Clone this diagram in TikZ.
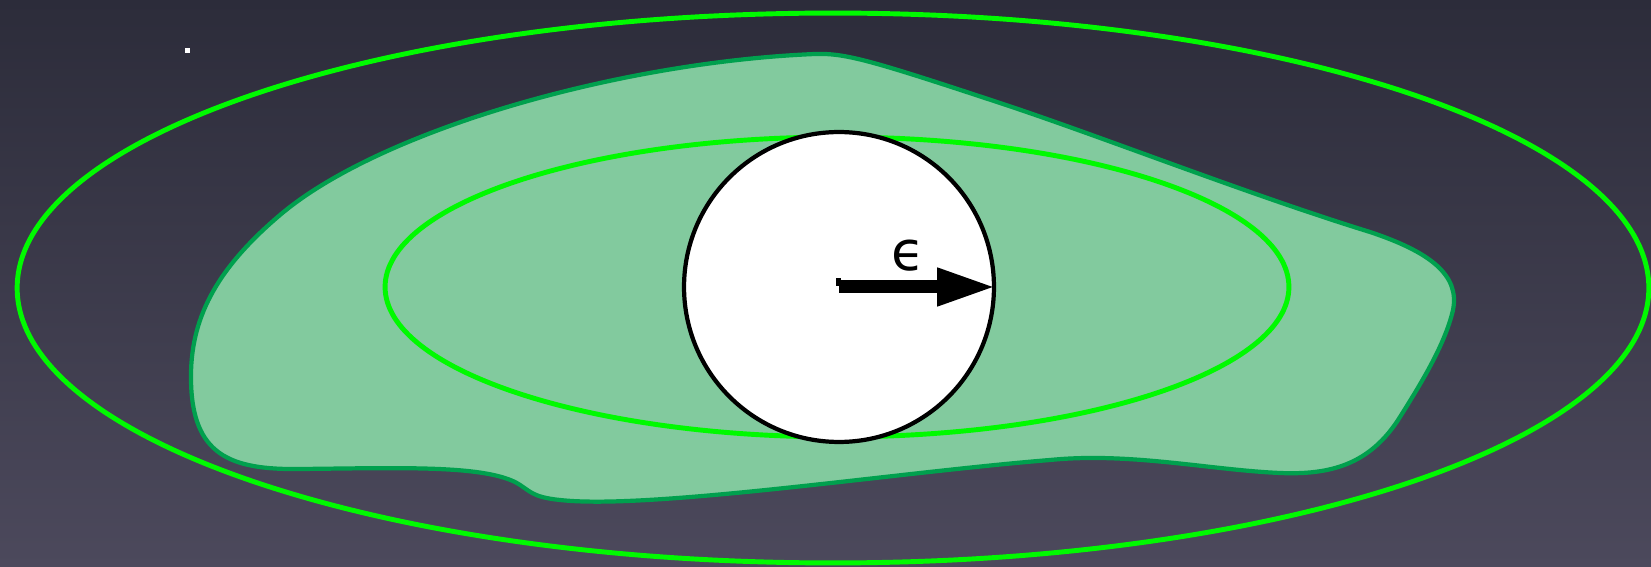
\documentclass[tikz,border=0pt]{standalone}
\usepackage{fontspec}
\newfontfamily\dejavu{DejaVu Sans}
\usetikzlibrary{arrows.meta}
\definecolor{bgtop}{RGB}{44,44,58}
\definecolor{bgbot}{RGB}{76,73,92}
\definecolor{brightgreen}{RGB}{0,250,0}
\definecolor{blobfill}{RGB}{130,202,158}
\definecolor{blobline}{RGB}{0,160,78}
\tikzset{
  ring/.style={draw=brightgreen, line width=2.8pt},
  blob/.style={fill=blobfill, draw=blobline, line width=2.4pt},
  ball/.style={circle, draw=black, line width=2.4pt, fill=white, minimum size=6.2cm, inner sep=0pt},
  radius arrow/.style={line width=0.26cm, -{Triangle[length=1.18cm,width=0.7cm]}},
}
\begin{document}
\begin{tikzpicture}[x=0.02cm,y=-0.02cm]
\useasboundingbox (0,0) rectangle (1651,567);
\shade[top color=bgtop, bottom color=bgbot] (0,0) rectangle (1651,567);
% outer ellipse
\draw[ring] (833,288) ellipse [x radius=16.32cm, y radius=5.5cm];
% blob
\draw[blob] (815,54)
  .. controls (845,53) and (870,60) .. (1000,103)
  .. controls (1100,136) and (1250,195) .. (1370,232)
  .. controls (1430,252) and (1460,275) .. (1453,310)
  .. controls (1445,345) and (1420,385) .. (1400,417)
  .. controls (1370,465) and (1330,475) .. (1280,473)
  .. controls (1210,470) and (1130,452) .. (1050,460)
  .. controls (900,472) and (650,510) .. (560,500)
  .. controls (530,497) and (530,490) .. (515,482)
  .. controls (480,465) and (400,468) .. (300,469)
  .. controls (230,470) and (192,455) .. (191,380)
  .. controls (190,320) and (215,270) .. (280,215)
  .. controls (380,130) and (620,62) .. (815,54) -- cycle;
% inner ellipse
\draw[ring] (837,287) ellipse [x radius=9.04cm, y radius=3.0cm];
% ball
\node[ball] (c) at (839,287) {};
\draw[radius arrow] (c.center) -- (c.east);
\fill[black] (836,278) rectangle (841,286);
\node (eps) at (908,256) {\dejavu\fontsize{31}{36}\selectfont ϵ};
% small white dot
\fill[white] (185,48) rectangle (190,53);
\end{tikzpicture}
\end{document}
